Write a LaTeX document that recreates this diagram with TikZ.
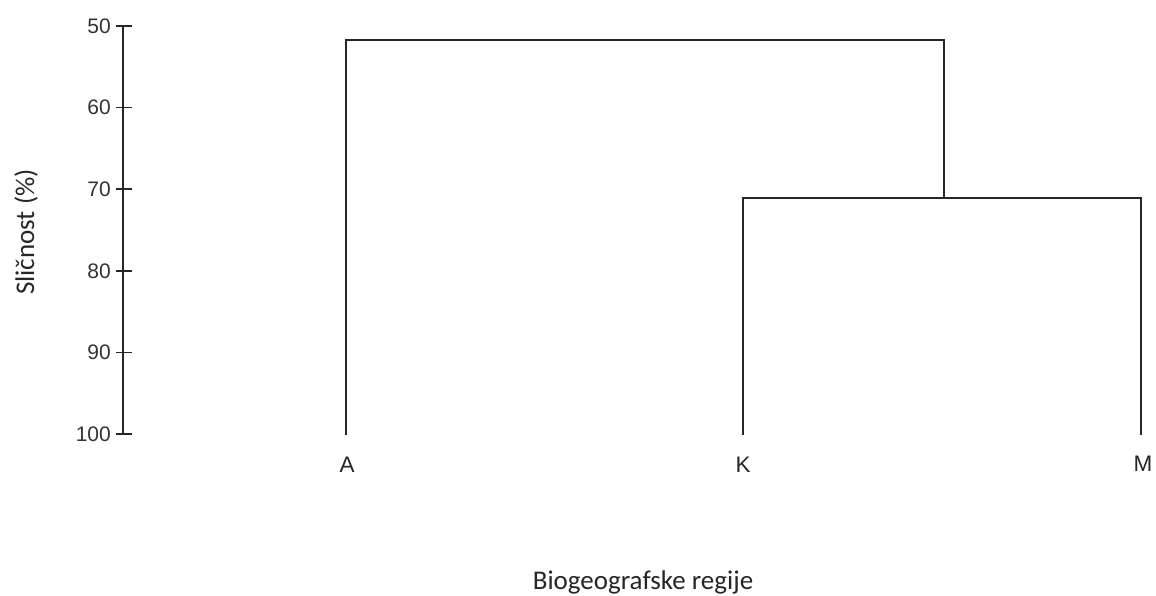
\documentclass[tikz,border=0pt]{standalone}
\usepackage{fontspec}
\setmainfont{Liberation Sans}
\newfontfamily\calfont{Carlito}
\begin{document}
\begin{tikzpicture}[x=1pt,y=-1pt,
  ln/.style={line width=1.4pt,draw=black!85},
  ticklbl/.style={anchor=east,inner sep=0pt,font=\fontsize{21}{25}\selectfont,text=black!80},
  leaflbl/.style={anchor=center,inner sep=0pt,font=\fontsize{22.5}{26}\selectfont,text=black!85},
  axlbl/.style={inner sep=0pt,font=\calfont\fontsize{27}{32}\selectfont,text=black!85}]
\useasboundingbox (0,0) rectangle (1156,596);
% axis
\coordinate (ytop) at (123,26);
\coordinate (ybot) at (123,434);
\draw[ln] (ytop) -- (ybot);
\foreach \v [count=\i from 0] in {50,60,70,80,90,100}{
  \coordinate (t\i) at (123,{26+81.6*\i});
  \draw[ln] ([xshift=-7pt]t\i) -- ([xshift=9pt]t\i);
  \node[ticklbl] (l\i) at ([xshift=-12pt]t\i) {\v};
}
\node[axlbl,rotate=90] (ylab) at (26,232) {Sličnost (\%)};
\node[axlbl,anchor=base] (xlab) at (643,589) {Biogeografske regije};
% leaves
\coordinate (a) at (346,435);
\coordinate (k) at (743,435);
\coordinate (m) at (1141,435);
\node[leaflbl] (A) at (347,465) {A};
\node[leaflbl] (K) at (743,465) {K};
\node[leaflbl] (M) at (1143,464) {M};
% dendrogram
\coordinate (km) at (944,198);
\draw[ln] (k) |- (km) -| (m);
\draw[ln] (a) |- (944,40) -- (km);
\end{tikzpicture}
\end{document}
